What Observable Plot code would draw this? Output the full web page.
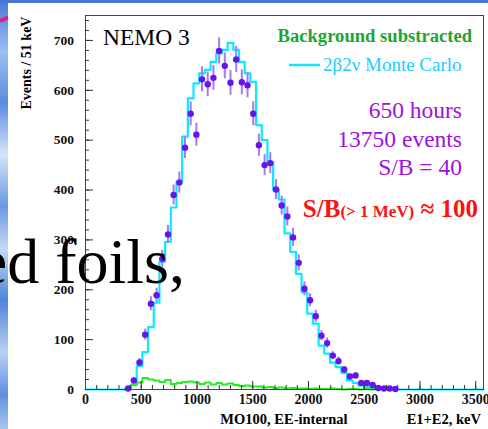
<!DOCTYPE html>
<html>
<head>
<meta charset="utf-8">
<script src="https://cdn.jsdelivr.net/npm/d3@7"></script>
<script src="https://cdn.jsdelivr.net/npm/@observablehq/plot@0.6"></script>
<style>
  html, body { margin: 0; padding: 0; }
  body {
    width: 488px; height: 429px; overflow: hidden; position: relative;
    background: linear-gradient(180deg, #4a78d6 0%, #9cbff0 12%, #5a8ce0 24%, #d6e5f8 36%, #6a98e2 48%, #c4d9f4 58%, #4f84da 70%, #b8d2f2 82%, #5f90e0 92%, #a9c7f0 100%);
  }
  #deco { position: absolute; left: 0; top: 0; width: 488px; height: 429px; }
  #panel { position: absolute; left: 8px; top: 3px; width: 480px; height: 426px; background: #ffffff; }
  #chart { position: absolute; left: 0; top: 0; }
  #notes { position: absolute; left: 0; top: 0; }
</style>
</head>
<body>
<svg id="deco" width="488" height="429">
  <line x1="0" y1="21" x2="62" y2="-6" stroke="#e0208a" stroke-width="4"/>
  <rect x="0" y="0" width="488" height="3" fill="#4d76d4"/>
</svg>
<div id="panel"></div>
<div id="chart"></div>
<svg id="notes" width="488" height="429" font-family="Liberation Serif, Times New Roman, serif">
  <text x="103" y="45" font-size="23.5" fill="#000" font-family="Liberation Serif">NEMO 3</text>
  <text x="472" y="42" font-size="18.6" font-weight="bold" fill="#1aa634" text-anchor="end" font-family="Liberation Serif">Background substracted</text>
  <line x1="289" y1="65" x2="320" y2="65" stroke="#18e4ff" stroke-width="2.5"/>
  <text x="323" y="71" font-size="19" fill="#22ccff" font-family="Liberation Serif">2β2ν Monte Carlo</text>
  <text x="462" y="118" font-size="23.5" fill="#a010e0" text-anchor="end" font-family="Liberation Serif">650 hours</text>
  <text x="462" y="147" font-size="23.5" fill="#a010e0" text-anchor="end" font-family="Liberation Serif">13750 events</text>
  <text x="462" y="175" font-size="23.5" fill="#a010e0" text-anchor="end" font-family="Liberation Serif">S/B = 40</text>
  <text x="478" y="217" font-weight="bold" fill="#ff1010" text-anchor="end" font-family="Liberation Serif"><tspan font-size="25">S/B</tspan><tspan font-size="17">(&gt; 1 MeV)</tspan><tspan font-size="25"> ≈ 100</tspan></text>
  <text transform="translate(31,63) rotate(-90)" font-size="14" font-weight="bold" fill="#000" text-anchor="middle" font-family="Liberation Serif">Events / 51 keV</text>
  <text x="284" y="424" font-size="14.5" font-weight="bold" fill="#000" text-anchor="middle" font-family="Liberation Serif">MO100, EE-internal</text>
  <text x="481" y="424" font-size="14.5" font-weight="bold" fill="#000" text-anchor="end" font-family="Liberation Serif">E1+E2, keV</text>
  <text x="185" y="283" font-size="64" fill="#000" text-anchor="end" font-family="Liberation Serif">ed foils,</text>
</svg>
<script>
// ---- data ----
const binWidth = 51;          // keV per bin
const xMax = 3570;            // histogram range 0..3570 keV (70 bins)
const yMax = 750;

// measured spectrum (background subtracted), bins 7..54
const dataFirstBin = 7;
const dataCounts = [2, 18, 54, 110, 172, 189, 262, 311, 390, 415, 485, 553, 511, 622, 612, 625, 679, 649, 615, 662, 616, 610, 553, 490, 450, 454, 401, 369, 347, 305, 254, 202, 179, 147, 108, 93, 68, 57, 40, 26, 28, 13, 13, 9, 3, 2, 2, 1];
const dataErrors = [1.5, 6, 8, 11, 14, 14, 17, 18, 20, 21, 22, 24, 23, 25, 25, 25, 26, 26, 25, 26, 25, 25, 24, 22, 21, 21, 20, 19, 19, 18, 16, 14, 13, 12, 10, 10, 8, 8, 6, 5, 5, 4, 4, 3, 2, 1.5, 1.5, 1];

// 2b2v Monte Carlo, bins 7..54 (zero elsewhere)
const mcFirstBin = 7;
const mcCounts = [2, 10, 47, 75, 125, 174, 256, 296, 365, 416, 507, 584, 614, 634, 641, 657, 674, 681, 695, 681, 657, 634, 617, 530, 500, 456, 401, 381, 313, 276, 232, 195, 152, 132, 88, 72, 54, 45, 33, 18, 13, 8, 5, 3, 2, 1, 0, 0];

// background, bins 7..50
const bkgFirstBin = 7;
const bkgCounts = [1, 9, 14, 23, 20, 18, 15, 19, 11, 13, 15, 16, 14, 11, 14, 10, 13, 10, 12, 9, 7, 8, 6, 6, 4, 5, 3, 4, 2, 3, 2, 2, 1, 2, 1, 1, 2, 1, 0, 1, 1, 0, 1, 0];

const xTickLabels = [0, 500, 1000, 1500, 2000, 2500, 3000, 3500];
const yTickLabels = [0, 100, 200, 300, 400, 500, 600, 700];

// ---- build tables ----
const nBins = Math.round(xMax / binWidth);
const points = dataCounts.map((v, i) => ({e: (dataFirstBin + i + 0.5) * binWidth, v, err: dataErrors[i]}));

const mcSteps = [];
for (let b = 0; b < nBins; b++) {
  const i = b - mcFirstBin;
  mcSteps.push({x: b * binWidth, y: (i >= 0 && i < mcCounts.length) ? mcCounts[i] : 0});
}
mcSteps.push({x: xMax, y: mcSteps[mcSteps.length - 1].y});

const bkgSteps = [{x: bkgFirstBin * binWidth, y: 0}];
bkgCounts.forEach((v, i) => bkgSteps.push({x: (bkgFirstBin + i) * binWidth, y: v}));
bkgSteps.push({x: (bkgFirstBin + bkgCounts.length) * binWidth, y: bkgCounts[bkgCounts.length - 1]});

const font = "Liberation Serif";
const minorX = d3.range(0, xMax + 1, 100);
const minorY = d3.range(0, yMax + 1, 20);

const chart = Plot.plot({
  width: 488,
  height: 429,
  marginLeft: 85,
  marginRight: 5,
  marginTop: 15,
  marginBottom: 40,
  style: {background: "transparent", overflow: "visible", fontFamily: font},
  x: {domain: [0, xMax]},
  y: {domain: [0, yMax]},
  marks: [
    Plot.line(mcSteps, {x: "x", y: "y", curve: "step-after", stroke: "#0ce8ff", strokeWidth: 2.2}),
    Plot.line(bkgSteps, {x: "x", y: "y", curve: "step-after", stroke: "#22ee22", strokeWidth: 1.9}),
    Plot.ruleX(points, {x: "e", y1: d => d.v - d.err, y2: d => d.v + d.err, stroke: "#a47cf2", strokeWidth: 2}),
    Plot.dot(points, {x: "e", y: "v", r: 3.2, fill: "#6814ee", stroke: null}),
    Plot.axisX(minorX, {anchor: "bottom", tickSize: -4, fill: "none", stroke: "#333", label: null}),
    Plot.axisX(xTickLabels, {anchor: "bottom", tickSize: -8, tickPadding: 13, stroke: "#333", fill: "#111",
      tickFormat: d3.format("d"), fontSize: 14, fontWeight: "bold", fontFamily: font, label: null}),
    Plot.axisY(minorY, {anchor: "left", tickSize: -4, fill: "none", stroke: "#333", label: null}),
    Plot.axisY(yTickLabels, {anchor: "left", tickSize: -8, tickPadding: 19.5, stroke: "#333", fill: "#111",
      tickFormat: d3.format("d"), fontSize: 13.5, fontWeight: "bold", fontFamily: font, label: null}),
    Plot.frame({stroke: "#444", strokeWidth: 1})
  ]
});
document.getElementById("chart").appendChild(chart);
</script>
</body>
</html>
